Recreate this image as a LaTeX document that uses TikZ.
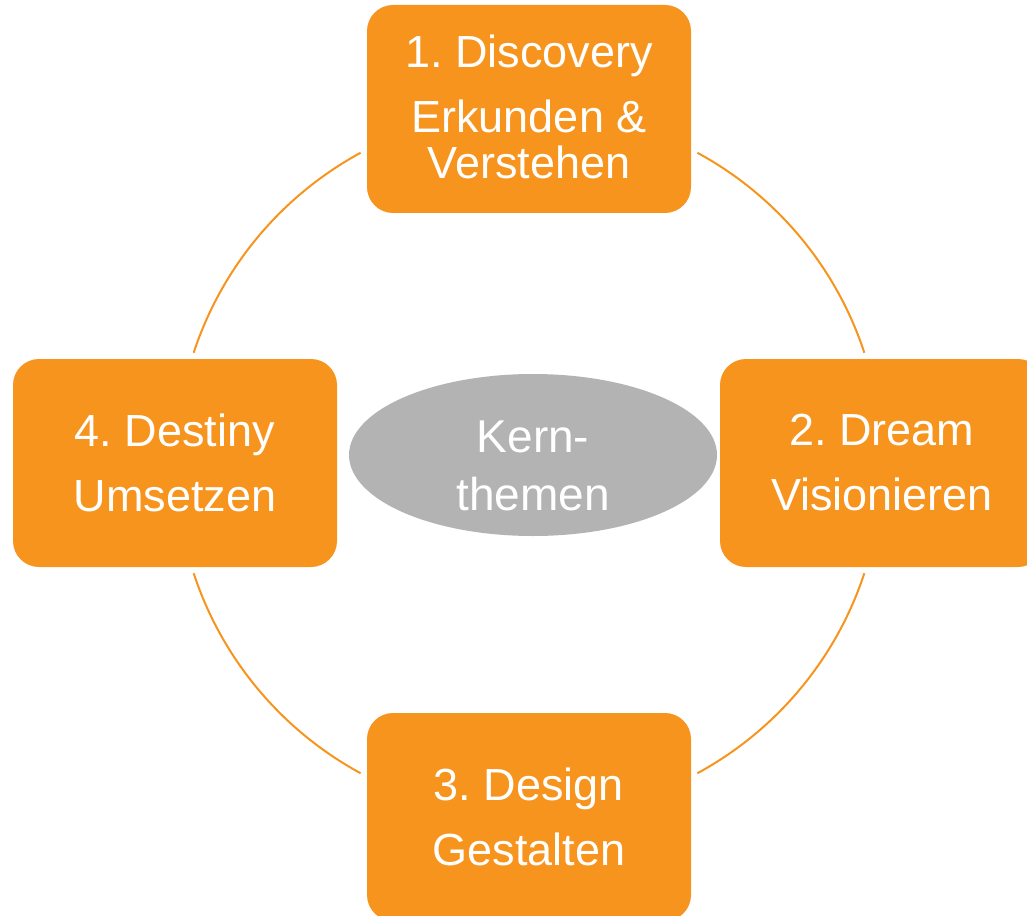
\documentclass[tikz,border=0pt]{standalone}
\usepackage{fontspec}
\setmainfont{Liberation Sans}
\usetikzlibrary{shapes.geometric}
\definecolor{myorange}{RGB}{247,148,30}
\definecolor{mygray}{RGB}{179,179,179}
\frenchspacing

\begin{document}
\begin{tikzpicture}[
  x=0.75pt, y=0.75pt,
  mybox/.style={
    rectangle,
    rounded corners=19.5pt,
    fill=myorange,
    text=white,
    minimum width=243pt,
    minimum height=156pt,
    inner sep=0pt,
    align=center,
    font=\fontsize{33.75pt}{48.75pt}\selectfont
    },
  myhub/.style={
    ellipse,
    fill=mygray,
    text=white,
    minimum width=276pt,
    minimum height=121.5pt,
    inner sep=0pt,
    align=center,
    font=\fontsize{34.5pt}{43.5pt}\selectfont
    },
  myring/.style={draw=myorange, line width=1.5pt}
]
\useasboundingbox (0,0) rectangle (1027,-916);
\coordinate (c) at (529,-463);

% ring pieces between the four phases
\foreach \s/\e in {18.2/61.5, 118.5/161.8, 198.2/241.5, 298.5/341.8}
  \draw [myring] ([shift={(\s:353)}]c) arc [start angle=\s, end angle=\e, radius=353];

\node [myhub] (hub) at (533,-455) {\rule{0pt}{40pt}Kern-\\themen};

\node [mybox] (discovery) at (529,-109) {1. Discovery\\Erkunden \&\\[-14.25pt]Verstehen\rule[-3.75pt]{0pt}{0pt}};
\node [mybox] (dream) at (882,-463) {2. Dream\\Visionieren};
\node [mybox] (design) at (529,-817) {3. Design\\Gestalten};
\node [mybox] (destiny) at (175,-463) {4. Destiny\\Umsetzen};

\end{tikzpicture}
\end{document}
